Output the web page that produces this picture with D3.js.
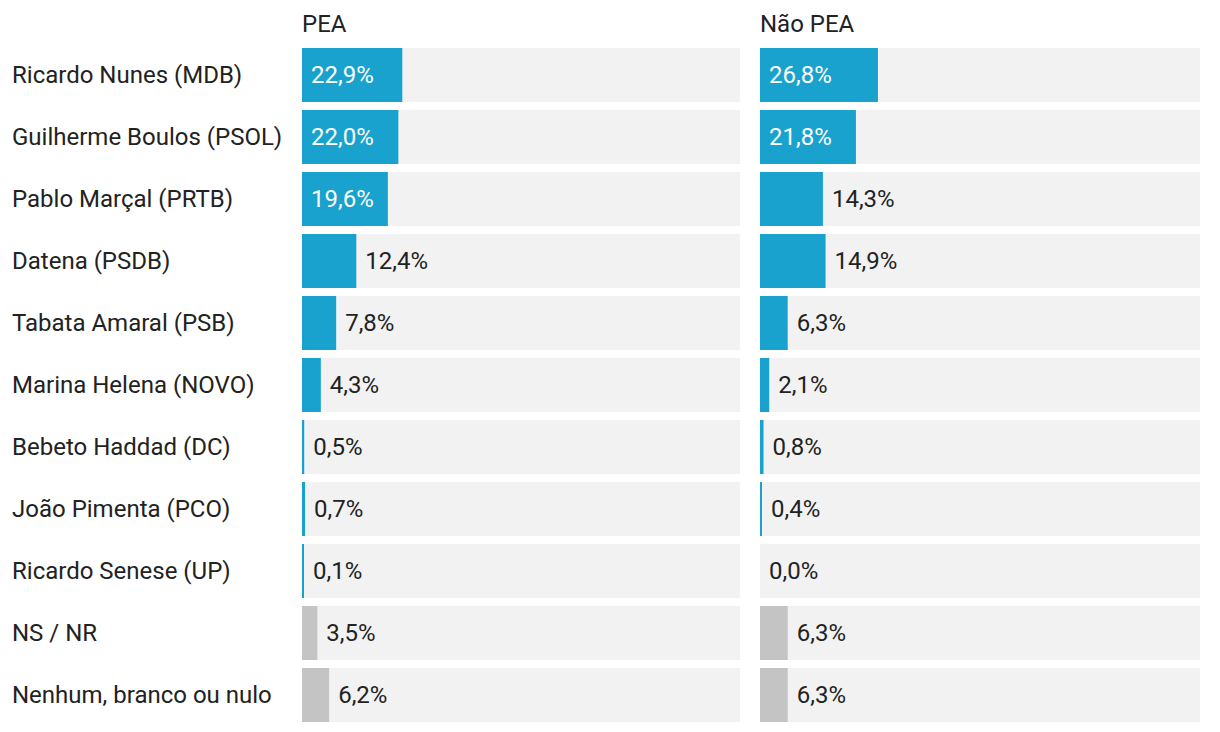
<!DOCTYPE html>
<html>
<head>
<meta charset="utf-8">
<script src="https://cdn.jsdelivr.net/npm/d3@7"></script>
<style>
  html, body { margin: 0; padding: 0; background: #fff; }
  svg { display: block; font-family: Roboto, sans-serif; }
</style>
</head>
<body>
<svg id="chart" width="1220" height="732"></svg>
<script>
const categories = [
  "Ricardo Nunes (MDB)",
  "Guilherme Boulos (PSOL)",
  "Pablo Marçal (PRTB)",
  "Datena (PSDB)",
  "Tabata Amaral (PSB)",
  "Marina Helena (NOVO)",
  "Bebeto Haddad (DC)",
  "João Pimenta (PCO)",
  "Ricardo Senese (UP)",
  "NS / NR",
  "Nenhum, branco ou nulo"
];
const seriesNames = ["PEA", "Não PEA"];
const peaValues    = [22.9, 22.0, 19.6, 12.4, 7.8, 4.3, 0.5, 0.7, 0.1, 3.5, 6.2];
const naoPeaValues = [26.8, 21.8, 14.3, 14.9, 6.3, 2.1, 0.8, 0.4, 0.0, 6.3, 6.3];
const grayCategories = ["NS / NR", "Nenhum, branco ou nulo"];

const series = [peaValues, naoPeaValues];
const svg = d3.select("#chart");
const fontSize = 24;
const textColor = "#222";

const y = d3.scaleBand().domain(categories).range([48, 722]).paddingInner(8 / 62).paddingOuter(0);
const panels = [[302, 740], [760, 1200]];

// category labels
svg.append("g").selectAll("text").data(categories).join("text")
  .attr("x", 12)
  .attr("y", d => y(d) + y.bandwidth() / 2)
  .attr("dy", "0.33em")
  .attr("font-size", fontSize)
  .attr("fill", textColor)
  .text(d => d);

series.forEach((vals, si) => {
  const x = d3.scaleLinear().domain([0, 100]).range(panels[si]);
  const g = svg.append("g");
  g.append("text")
    .attr("x", x(0))
    .attr("y", 32)
    .attr("font-size", fontSize)
    .attr("fill", textColor)
    .text(seriesNames[si]);

  const rows = g.selectAll("g.row").data(categories.map((c, i) => ({c, v: vals[i]}))).join("g");
  rows.append("rect")
    .attr("x", x(0)).attr("y", d => y(d.c))
    .attr("width", x(100) - x(0)).attr("height", y.bandwidth())
    .attr("fill", "#f2f2f2");
  rows.filter(d => d.v > 0).append("rect")
    .attr("x", x(0)).attr("y", d => y(d.c))
    .attr("width", d => Math.max(2, x(d.v) - x(0))).attr("height", y.bandwidth())
    .attr("fill", d => grayCategories.includes(d.c) ? "#c4c4c4" : "#18a2cd");
  rows.append("text")
    .attr("x", d => d.v > 15 ? x(0) + 9 : x(0) + Math.max(d.v > 0 ? 2 : 0, x(d.v) - x(0)) + 9)
    .attr("y", d => y(d.c) + y.bandwidth() / 2)
    .attr("dy", "0.33em")
    .attr("font-size", fontSize)
    .attr("fill", d => d.v > 15 ? "#fff" : textColor)
    .text(d => d.v.toFixed(1).replace(".", ",") + "%");
});
</script>
</body>
</html>
